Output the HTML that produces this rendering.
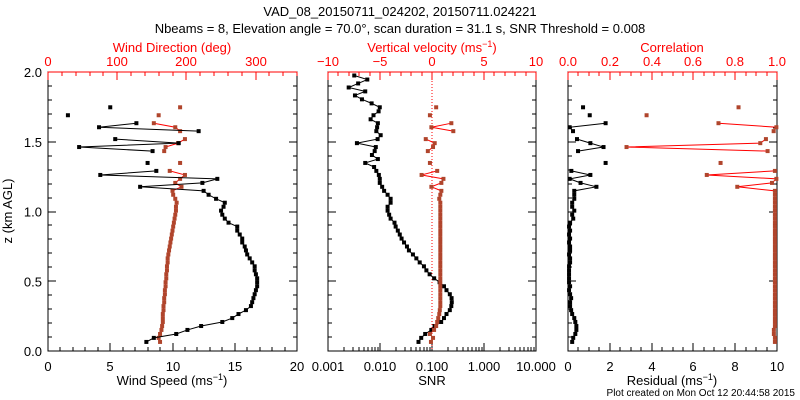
<!DOCTYPE html>
<html><head><meta charset="utf-8"><style>
html,body{margin:0;padding:0;background:#fff;}
svg{display:block;font-family:"Liberation Sans",sans-serif;}
</style></head><body>
<svg id="chart" width="800" height="400" viewBox="0 0 800 400" xmlns="http://www.w3.org/2000/svg">
<rect width="800" height="400" fill="#fff"/>
<text x="400" y="16" font-size="13" text-anchor="middle">VAD_08_20150711_024202, 20150711.024221</text>
<text x="400" y="33" font-size="13" text-anchor="middle">Nbeams = 8, Elevation angle = 70.0°, scan duration = 31.1 s, SNR Threshold = 0.008</text>
<text x="795" y="396" font-size="10" text-anchor="end">Plot created on Mon Oct 12 20:44:58 2015</text>
<g id="g"></g>
</svg>
<script>
const heights=[0.065,0.094,0.122,0.151,0.179,0.208,0.236,0.265,0.293,0.322,0.350,0.379,0.407,0.436,0.464,0.493,0.521,0.550,0.578,0.607,0.635,0.664,0.692,0.721,0.749,0.778,0.806,0.835,0.863,0.892,0.920,0.949,0.977,1.006,1.034,1.063,1.091,1.120,1.148,1.177,1.205,1.234,1.262,1.291,1.319,1.348,1.376,1.405,1.433,1.462,1.490,1.519,1.547,1.576,1.604,1.633,1.661,1.690,1.718,1.747,1.775,1.804,1.832,1.861,1.889,1.918,1.946,1.975];
const windSpeed=[7.9,8.5,10.3,11.2,12.3,14.0,14.8,15.3,15.9,16.3,16.4,16.5,16.6,16.7,16.8,16.8,16.8,16.7,16.6,16.6,16.4,16.2,16.0,15.9,15.8,15.6,15.6,15.4,15.2,15.2,14.5,14.2,14.0,13.9,14.1,14.2,13.5,12.9,12.5,7.4,12.4,13.6,4.2,8.7,null,8.0,null,null,8.4,2.5,10.5,5.4,null,12.1,4.1,7.1,null,1.6,null,5.0];
const windDir=[162,160,162,164,165,166,166,166,167,167,168,168,169,169,170,170,171,171,172,172,173,173,174,175,176,177,178,179,180,181,182,183,184,185,185,186,184,181,180,193,184,191,198,176,null,191,null,null,168,170,188,198,null,191,184,153,null,160,null,191];
const snr=[0.055,0.062,0.074,0.097,0.112,0.15,0.17,0.19,0.22,0.235,0.24,0.238,0.22,0.19,0.17,0.14,0.11,0.09,0.078,0.07,0.058,0.05,0.043,0.036,0.033,0.029,0.026,0.024,0.022,0.02,0.019,0.016,0.015,0.014,0.014,0.016,0.016,0.014,0.012,0.011,0.0099,0.0099,0.0095,0.0085,0.0077,0.0052,0.0091,0.007,0.0079,0.0083,0.0036,0.009,0.0103,0.0085,0.0088,0.0091,0.0066,0.0075,0.0094,0.0099,0.0069,0.0045,0.0033,0.0052,0.0025,0.0038,0.0057,0.0032];
const vertVel=[-0.1,0.1,-0.2,0.2,0.4,0.5,0.6,0.7,0.75,0.8,0.8,0.8,0.8,0.8,0.8,0.8,0.8,0.8,0.8,0.8,0.8,0.8,0.8,0.8,0.8,0.8,0.8,0.8,0.8,0.8,0.8,0.8,0.8,0.8,0.8,0.8,0.7,0.8,0.9,-0.06,0.9,1.1,-1.0,0.5,null,-0.2,null,null,-0.4,0.1,0.26,-0.6,null,2.05,-0.06,1.86,null,-0.2,null,0.4];
const residual=[0.2,0.25,0.35,0.4,0.4,0.35,0.3,0.2,0.15,0.1,0.1,0.15,0.1,0.05,0.1,0.05,0.05,0.05,0.05,0.05,0.1,0.1,0.05,0.1,0.1,0.05,0.1,0.05,0.1,0.05,0.1,0.25,0.2,0.3,0.2,0.2,0.3,0.3,0.3,1.36,0.6,0.08,1.07,0.16,null,1.8,null,null,0.48,1.7,1.07,0.43,null,0.24,0.08,1.8,null,1.04,null,0.72];
const correlation=[0.99,0.99,0.985,0.985,0.99,0.99,0.99,0.99,0.99,0.99,0.99,0.99,0.99,0.99,0.99,0.99,0.99,0.99,0.99,0.99,0.99,0.99,0.99,0.99,0.99,0.99,0.99,0.99,0.99,0.99,0.99,0.99,0.99,0.99,0.99,0.99,0.99,0.99,0.99,0.81,0.976,0.997,0.664,0.99,null,0.73,null,null,0.955,0.28,0.92,0.947,null,0.984,0.997,0.72,null,0.376,null,0.816];
const yTicks=[0,0.5,1.0,1.5,2.0];
const yTickLabels=["0.0","0.5","1.0","1.5","2.0"];

const NS="http://www.w3.org/2000/svg";
const G=document.getElementById('g');
const RED="#ff0000", BROWN="#b0452c";
const Y0=351, Y1=72;
function yS(z){return Y0+(Y1-Y0)*z/2;}
function mk(tag,attrs,parent){const e=document.createElementNS(NS,tag);for(const k in attrs)e.setAttribute(k,attrs[k]);(parent||G).appendChild(e);return e;}
function line(x1,y1,x2,y2,c,parent){return mk('line',{x1,y1,x2,y2,stroke:c,'stroke-width':1,'shape-rendering':'crispEdges'},parent);}
function txt(x,y,s,c,anchor,size,parent){const t=mk('text',{x,y,fill:c,'font-size':size||13,'text-anchor':anchor||'middle'},parent);t.textContent=s;return t;}

const panels=[{x0:48,x1:297,name:'wind-panel'},{x0:328,x1:536,name:'snr-panel'},{x0:568,x1:777,name:'residual-panel'}];
function linS(p,a,b){return v=>p.x0+(p.x1-p.x0)*(v-a)/(b-a);}

function drawSeries(name,vals,sx,markC,lineC){
  const g=mk('g',{});
  
  
  let seg=[];
  const segs=[];
  vals.forEach((v,i)=>{ if(v==null){if(seg.length)segs.push(seg);seg=[];} else seg.push([sx(v),yS(heights[i])]); });
  if(seg.length)segs.push(seg);
  segs.forEach(s=>{ if(s.length>1){const pl=mk('polyline',{points:s.map(p=>p.join(',')).join(' '),fill:'none',stroke:lineC,'stroke-width':1},g);
    
    }});
  vals.forEach((v,i)=>{ if(v==null)return; const r=mk('rect',{x:sx(v)-2,y:yS(heights[i])-2,width:4,height:4,fill:markC},g);
    
    });
}

// frames and y ticks
panels.forEach(p=>{
  const r=mk('rect',{x:p.x0,y:Y1,width:p.x1-p.x0,height:Y0-Y1,fill:'none',stroke:'#000','stroke-width':1,'shape-rendering':'crispEdges'});
  
  
  for(let k=0;k<=20;k++){const y=Math.round(yS(k*0.1));const L=(k%5==0)?8:4;line(p.x0,y,p.x0+L,y,'#000');line(p.x1-L,y,p.x1,y,'#000');}
});
yTicks.forEach((v,i)=>{const t=txt(42,yS(v)+5,yTickLabels[i],'#000','end',13);
  
  });
const yt=mk('text',{x:0,y:0,'font-size':13,'text-anchor':'middle',transform:'translate(12,211) rotate(-90)'});
yt.textContent='z (km AGL)';



function xAxis(p,sx,majors,labels,minors,c,top){
  const y=top?Y1:Y0, d=top?1:-1;
  minors.forEach(v=>{const x=Math.round(sx(v));line(x,y,x,y+4*d,c);});
  majors.forEach((v,i)=>{const x=Math.round(sx(v));line(x,y,x,y+8*d,c);
    const t=txt(x,top?Y1-6:Y0+20,labels[i],c,'middle',13);
    
    });
  if(top){line(p.x0,Y1,p.x1,Y1,c);}
}
function range(a,b,s){const r=[];for(let v=a;v<=b+1e-9;v+=s)r.push(+v.toFixed(4));return r;}
function titleWithSup(x,y,base,sup,tail,c,name){
  const t=mk('text',{x,y,fill:c,'font-size':13,'text-anchor':'middle'});
  
  
  t.appendChild(document.createTextNode(base));
  if(sup){const s=mk('tspan',{'font-size':9,dy:-5},t);s.textContent=sup;const s2=mk('tspan',{dy:5},t);s2.textContent=tail;}
}

// Panel 1
const p1=panels[0];
const sxSpeed=linS(p1,0,20), sxDir=linS(p1,0,360);
xAxis(p1,sxSpeed,[0,5,10,15,20],['0','5','10','15','20'],range(0,20,1),'#000',false);
xAxis(p1,sxDir,[0,100,200,300],['0','100','200','300'],range(0,360,20),RED,true);
titleWithSup(172,385,'Wind Speed (ms','−1',')','#000','wind-speed-axis-title');
titleWithSup(172,52,'Wind Direction (deg)',null,null,RED,'wind-direction-axis-title');
drawSeries('wind-direction',windDir,sxDir,BROWN,RED);
drawSeries('wind-speed',windSpeed,sxSpeed,'#000','#000');

// Panel 2
const p2=panels[1];
const sxSnr=v=>p2.x0+(p2.x1-p2.x0)*(Math.log10(v)+3)/4, sxW=linS(p2,-10,10);
const logMin=[];for(let e=-3;e<1;e++)for(let m=2;m<=9;m++)logMin.push(m*Math.pow(10,e));
xAxis(p2,sxSnr,[0.001,0.01,0.1,1,10],['0.001','0.010','0.100','1.000','10.000'],logMin,'#000',false);
xAxis(p2,sxW,[-10,-5,0,5,10],['−10','−5','0','5','10'],range(-10,10,1),RED,true);
titleWithSup(432,385,'SNR',null,null,'#000','snr-axis-title');
titleWithSup(432,52,'Vertical velocity (ms','−1',')',RED,'vertical-velocity-axis-title');
const zl=mk('line',{x1:sxW(0),y1:Y1,x2:sxW(0),y2:Y0,stroke:RED,'stroke-width':1,'stroke-dasharray':'1,2'});


drawSeries('snr',snr,sxSnr,'#000','#000');
drawSeries('vertical-velocity',vertVel,sxW,BROWN,RED);

// Panel 3
const p3=panels[2];
const sxRes=linS(p3,0,10), sxCor=linS(p3,0,1);
xAxis(p3,sxRes,[0,2,4,6,8,10],['0','2','4','6','8','10'],range(0,10,0.5),'#000',false);
xAxis(p3,sxCor,[0,0.2,0.4,0.6,0.8,1.0],['0.0','0.2','0.4','0.6','0.8','1.0'],range(0,1,0.05),RED,true);
titleWithSup(672,385,'Residual (ms','−1',')','#000','residual-axis-title');
titleWithSup(672,52,'Correlation',null,null,RED,'correlation-axis-title');
drawSeries('correlation',correlation,sxCor,BROWN,RED);
drawSeries('residual',residual,sxRes,'#000','#000');
</script>
</body></html>
